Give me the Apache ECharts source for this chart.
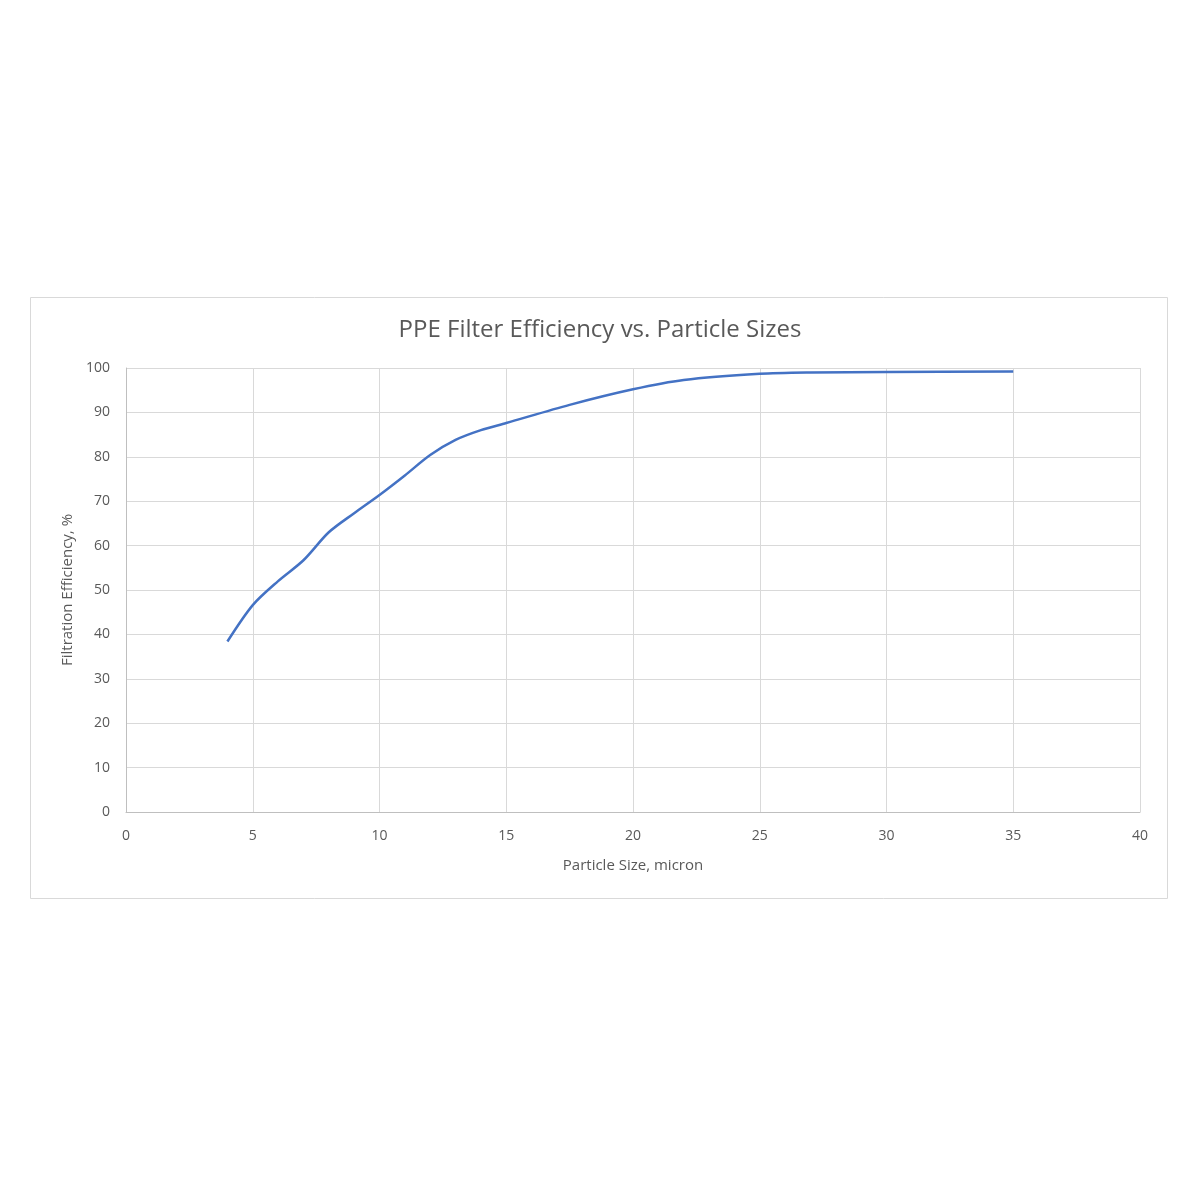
<!DOCTYPE html>
<html>
<head>
<meta charset="utf-8">
<script src="https://cdn.jsdelivr.net/npm/echarts@6/dist/echarts.min.js"></script>
<style>html,body{margin:0;padding:0;background:#fff}#c{width:1200px;height:1200px}</style>
</head>
<body>
<div id="c"></div>
<script>
const particleSize = [4, 5, 6, 7, 8, 9, 10, 11, 12, 13, 14, 15, 17.5, 20, 22, 25, 27, 30, 35];
const efficiency = [38.4, 46.6, 52, 56.7, 63, 67.3, 71.4, 75.8, 80.4, 83.8, 86, 87.6, 91.7, 95.2, 97.3, 98.7, 99.0, 99.1, 99.2];
const titleText = 'PPE Filter Efficiency vs. Particle Sizes';
const xName = 'Particle Size, micron';
const yName = 'Filtration Efficiency, %';

const chart = echarts.init(document.getElementById('c'));
const txt = '#595959';
const font = 'Open Sans';
chart.setOption({
  animation: false,
  graphic: [{
    type: 'rect', shape: { x: 30.5, y: 297.5, width: 1137, height: 601 },
    style: { fill: 'none', stroke: '#d9d9d9', lineWidth: 1 }, z: -1
  }],
  title: {
    text: titleText, left: 'center', top: 313,
    textStyle: { color: txt, fontSize: 24, fontWeight: 'normal', fontFamily: font }
  },
  grid: { left: 126, right: 60, top: 368, bottom: 388 },
  xAxis: {
    type: 'value', min: 0, max: 40, interval: 5,
    name: xName, nameLocation: 'middle', nameGap: 46,
    nameTextStyle: { color: txt, fontSize: 15, fontFamily: font },
    axisLine: { show: true, lineStyle: { color: '#bfbfbf' } },
    axisTick: { show: false },
    axisLabel: { color: txt, fontSize: 14, fontFamily: font, margin: 17 },
    splitLine: { show: true, lineStyle: { color: '#d9d9d9' } }
  },
  yAxis: {
    type: 'value', min: 0, max: 100, interval: 10,
    name: yName, nameLocation: 'middle', nameGap: 50,
    nameTextStyle: { color: txt, fontSize: 15, fontFamily: font },
    axisLine: { show: true, lineStyle: { color: '#bfbfbf' } },
    axisTick: { show: false },
    axisLabel: { color: txt, fontSize: 14, fontFamily: font, margin: 16 },
    splitLine: { show: true, lineStyle: { color: '#d9d9d9' } }
  },
  series: [{
    type: 'line', smooth: 0.3, showSymbol: false,
    data: particleSize.map((x, i) => [x, efficiency[i]]),
    lineStyle: { color: '#4472C4', width: 2.5 },
    itemStyle: { color: '#4472C4' }
  }]
});
</script>
</body>
</html>
